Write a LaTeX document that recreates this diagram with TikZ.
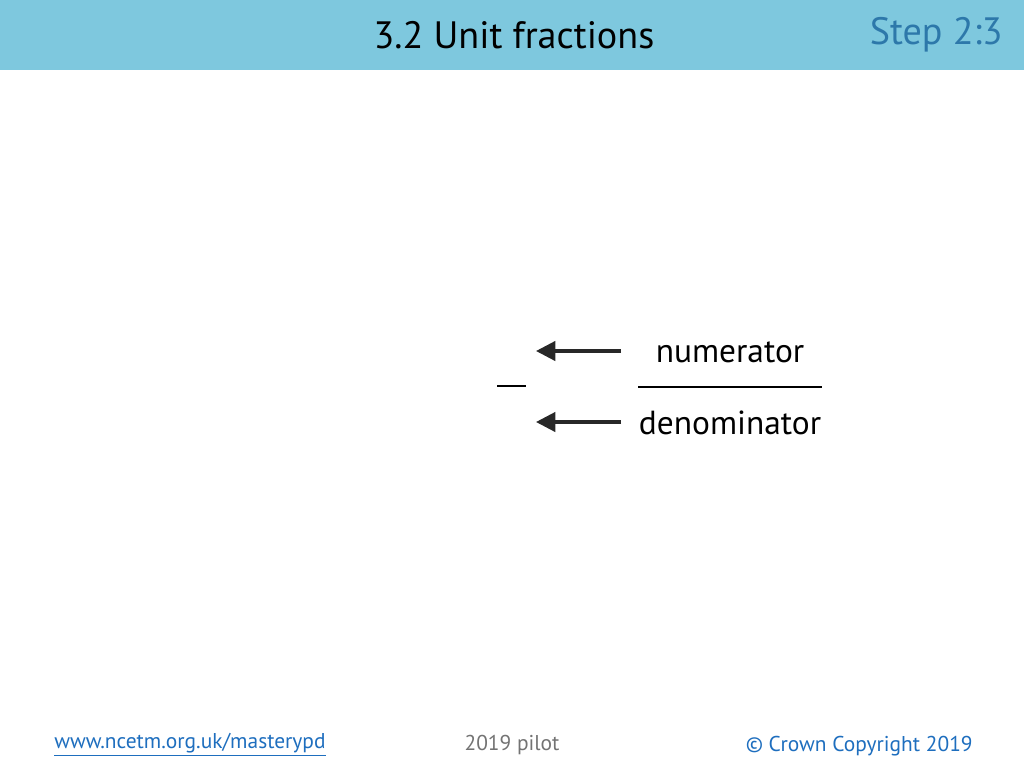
\documentclass[tikz,border=0pt]{standalone}
\usepackage{fontspec}
\setmainfont{PT Sans}
\usetikzlibrary{positioning,arrows.meta}
\definecolor{bandblue}{RGB}{126,200,222}
\definecolor{stepblue}{RGB}{45,120,170}
\definecolor{linkblue}{RGB}{30,110,190}
\definecolor{arrowgrey}{RGB}{40,40,40}
\begin{document}
\begin{tikzpicture}[x=0.02cm,y=-0.02cm]
    \tikzstyle{label}=[inner sep=0pt, font=\fontsize{19}{21}\selectfont]
    \tikzstyle{foot}=[inner sep=0pt, font=\fontsize{12.2}{14}\selectfont]
    \tikzstyle{pointer}=[-{Triangle[length=11pt,width=11pt]}, line width=1.8pt, draw=arrowgrey]
    \useasboundingbox (0,0) rectangle (1024,768);
    % header band
    \fill[bandblue] (0,0) rectangle (1024,70);
    \node[inner sep=0pt, font=\fontsize{21.7}{24}\selectfont] (title) at (514,35) {3.2 Unit fractions};
    \node[inner sep=0pt, anchor=east, text=stepblue, font=\fontsize{21.7}{24}\selectfont] (step) at (1003,35) {Step 2:3};
    % fraction parts
    \node[label] (num) at (730,352) {numerator};
    \node[label] (den) at (730,423) {denominator};
    \coordinate (numtip) at (536,351);
    \coordinate (dentip) at (536,422);
    \coordinate (numtail) at (621,351);
    \coordinate (dentail) at (621,422);
    \draw[pointer] (numtail) -- (numtip);
    \draw[pointer] (dentail) -- (dentip);
    \coordinate (barl) at (638,387);
    \coordinate (barr) at (822,387);
    \draw[line width=1.6pt] (barl) -- (barr);
    \coordinate (smalll) at (497,386);
    \coordinate (smallr) at (526,386);
    \draw[line width=1.6pt] (smalll) -- (smallr);
    % footer
    \node[foot, anchor=west, text=linkblue] (web) at (54,745) {\underline{www.ncetm.org.uk/masterypd}};
    \node[foot, text=black!55] (pilot) at (512,745) {2019 pilot};
    \node[foot, anchor=east, text=linkblue] (copy) at (973,746) {© Crown Copyright 2019};
\end{tikzpicture}
\end{document}
